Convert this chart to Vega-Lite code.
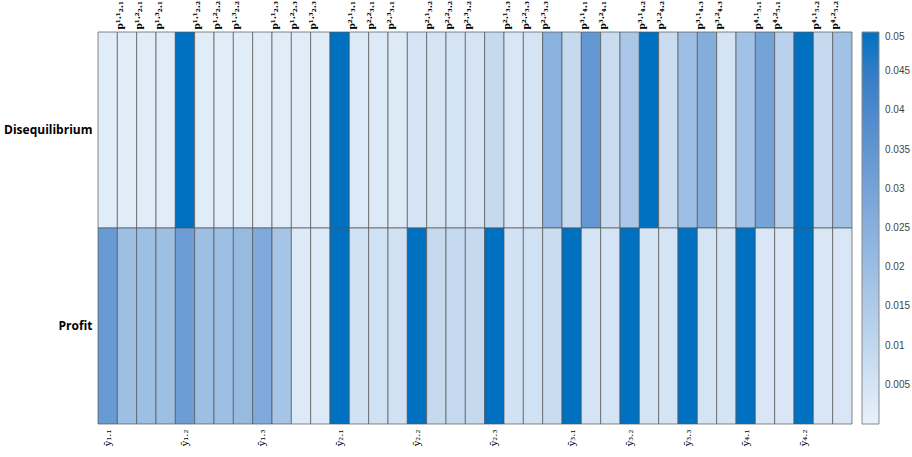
{
  "$schema": "https://vega.github.io/schema/vega-lite/v6.json",
  "width": 754,
  "height": 392,
  "padding": {"left": 3, "top": 0, "right": 1, "bottom": 1},
  "background": "white",
  "config": {"view": {"stroke": null}},
  "data": {"values": [
    {"c": 1, "lab": "ȳ₁.₁", "row": "Disequilibrium", "v": 0.002},
    {"c": 2, "lab": "p¹·¹₂.₁", "row": "Disequilibrium", "v": 0.002},
    {"c": 3, "lab": "p¹·²₂.₁", "row": "Disequilibrium", "v": 0.002},
    {"c": 4, "lab": "p¹·³₂.₁", "row": "Disequilibrium", "v": 0.002},
    {"c": 5, "lab": "ȳ₁.₂", "row": "Disequilibrium", "v": 0.05},
    {"c": 6, "lab": "p¹·¹₂.₂", "row": "Disequilibrium", "v": 0.002},
    {"c": 7, "lab": "p¹·²₂.₂", "row": "Disequilibrium", "v": 0.002},
    {"c": 8, "lab": "p¹·³₂.₂", "row": "Disequilibrium", "v": 0.002},
    {"c": 9, "lab": "ȳ₁.₃", "row": "Disequilibrium", "v": 0.002},
    {"c": 10, "lab": "p¹·¹₂.₃", "row": "Disequilibrium", "v": 0.002},
    {"c": 11, "lab": "p¹·²₂.₃", "row": "Disequilibrium", "v": 0.002},
    {"c": 12, "lab": "p¹·³₂.₃", "row": "Disequilibrium", "v": 0.002},
    {"c": 13, "lab": "ȳ₂.₁", "row": "Disequilibrium", "v": 0.05},
    {"c": 14, "lab": "p²·¹₃.₁", "row": "Disequilibrium", "v": 0.003},
    {"c": 15, "lab": "p²·²₃.₁", "row": "Disequilibrium", "v": 0.003},
    {"c": 16, "lab": "p²·³₃.₁", "row": "Disequilibrium", "v": 0.003},
    {"c": 17, "lab": "ȳ₂.₂", "row": "Disequilibrium", "v": 0.005},
    {"c": 18, "lab": "p²·¹₃.₂", "row": "Disequilibrium", "v": 0.005},
    {"c": 19, "lab": "p²·²₃.₂", "row": "Disequilibrium", "v": 0.005},
    {"c": 20, "lab": "p²·³₃.₂", "row": "Disequilibrium", "v": 0.005},
    {"c": 21, "lab": "ȳ₂.₃", "row": "Disequilibrium", "v": 0.009},
    {"c": 22, "lab": "p²·¹₃.₃", "row": "Disequilibrium", "v": 0.004},
    {"c": 23, "lab": "p²·²₃.₃", "row": "Disequilibrium", "v": 0.005},
    {"c": 24, "lab": "p²·³₃.₃", "row": "Disequilibrium", "v": 0.024},
    {"c": 25, "lab": "ȳ₃.₁", "row": "Disequilibrium", "v": 0.009},
    {"c": 26, "lab": "p³·¹₄.₁", "row": "Disequilibrium", "v": 0.034},
    {"c": 27, "lab": "p³·²₄.₁", "row": "Disequilibrium", "v": 0.008},
    {"c": 28, "lab": "ȳ₃.₂", "row": "Disequilibrium", "v": 0.016},
    {"c": 29, "lab": "p³·¹₄.₂", "row": "Disequilibrium", "v": 0.05},
    {"c": 30, "lab": "p³·²₄.₂", "row": "Disequilibrium", "v": 0.008},
    {"c": 31, "lab": "ȳ₃.₃", "row": "Disequilibrium", "v": 0.019},
    {"c": 32, "lab": "p³·¹₄.₃", "row": "Disequilibrium", "v": 0.026},
    {"c": 33, "lab": "p³·²₄.₃", "row": "Disequilibrium", "v": 0.005},
    {"c": 34, "lab": "ȳ₄.₁", "row": "Disequilibrium", "v": 0.018},
    {"c": 35, "lab": "p⁴·¹₅.₁", "row": "Disequilibrium", "v": 0.03},
    {"c": 36, "lab": "p⁴·²₅.₁", "row": "Disequilibrium", "v": 0.012},
    {"c": 37, "lab": "ȳ₄.₂", "row": "Disequilibrium", "v": 0.05},
    {"c": 38, "lab": "p⁴·¹₅.₂", "row": "Disequilibrium", "v": 0.009},
    {"c": 39, "lab": "p⁴·²₅.₂", "row": "Disequilibrium", "v": 0.018},
    {"c": 1, "lab": "ȳ₁.₁", "row": "Profit", "v": 0.033},
    {"c": 2, "lab": "p¹·¹₂.₁", "row": "Profit", "v": 0.019},
    {"c": 3, "lab": "p¹·²₂.₁", "row": "Profit", "v": 0.019},
    {"c": 4, "lab": "p¹·³₂.₁", "row": "Profit", "v": 0.019},
    {"c": 5, "lab": "ȳ₁.₂", "row": "Profit", "v": 0.032},
    {"c": 6, "lab": "p¹·¹₂.₂", "row": "Profit", "v": 0.019},
    {"c": 7, "lab": "p¹·²₂.₂", "row": "Profit", "v": 0.019},
    {"c": 8, "lab": "p¹·³₂.₂", "row": "Profit", "v": 0.021},
    {"c": 9, "lab": "ȳ₁.₃", "row": "Profit", "v": 0.027},
    {"c": 10, "lab": "p¹·¹₂.₃", "row": "Profit", "v": 0.017},
    {"c": 11, "lab": "p¹·²₂.₃", "row": "Profit", "v": 0.003},
    {"c": 12, "lab": "p¹·³₂.₃", "row": "Profit", "v": 0.003},
    {"c": 13, "lab": "ȳ₂.₁", "row": "Profit", "v": 0.05},
    {"c": 14, "lab": "p²·¹₃.₁", "row": "Profit", "v": 0.006},
    {"c": 15, "lab": "p²·²₃.₁", "row": "Profit", "v": 0.006},
    {"c": 16, "lab": "p²·³₃.₁", "row": "Profit", "v": 0.006},
    {"c": 17, "lab": "ȳ₂.₂", "row": "Profit", "v": 0.05},
    {"c": 18, "lab": "p²·¹₃.₂", "row": "Profit", "v": 0.009},
    {"c": 19, "lab": "p²·²₃.₂", "row": "Profit", "v": 0.009},
    {"c": 20, "lab": "p²·³₃.₂", "row": "Profit", "v": 0.009},
    {"c": 21, "lab": "ȳ₂.₃", "row": "Profit", "v": 0.05},
    {"c": 22, "lab": "p²·¹₃.₃", "row": "Profit", "v": 0.006},
    {"c": 23, "lab": "p²·²₃.₃", "row": "Profit", "v": 0.006},
    {"c": 24, "lab": "p²·³₃.₃", "row": "Profit", "v": 0.008},
    {"c": 25, "lab": "ȳ₃.₁", "row": "Profit", "v": 0.05},
    {"c": 26, "lab": "p³·¹₄.₁", "row": "Profit", "v": 0.005},
    {"c": 27, "lab": "p³·²₄.₁", "row": "Profit", "v": 0.005},
    {"c": 28, "lab": "ȳ₃.₂", "row": "Profit", "v": 0.05},
    {"c": 29, "lab": "p³·¹₄.₂", "row": "Profit", "v": 0.005},
    {"c": 30, "lab": "p³·²₄.₂", "row": "Profit", "v": 0.005},
    {"c": 31, "lab": "ȳ₃.₃", "row": "Profit", "v": 0.05},
    {"c": 32, "lab": "p³·¹₄.₃", "row": "Profit", "v": 0.005},
    {"c": 33, "lab": "p³·²₄.₃", "row": "Profit", "v": 0.005},
    {"c": 34, "lab": "ȳ₄.₁", "row": "Profit", "v": 0.05},
    {"c": 35, "lab": "p⁴·¹₅.₁", "row": "Profit", "v": 0.004},
    {"c": 36, "lab": "p⁴·²₅.₁", "row": "Profit", "v": 0.004},
    {"c": 37, "lab": "ȳ₄.₂", "row": "Profit", "v": 0.05},
    {"c": 38, "lab": "p⁴·¹₅.₂", "row": "Profit", "v": 0.004},
    {"c": 39, "lab": "p⁴·²₅.₂", "row": "Profit", "v": 0.004}
  ]},
  "layer": [
    {
      "mark": {"type": "rect", "stroke": "#555555", "strokeWidth": 0.7},
      "encoding": {
        "x": {
          "field": "lab", "type": "nominal", "sort": {"field": "c", "op": "min"}, "title": null,
          "axis": {
            "orient": "bottom", "labelAngle": 270, "ticks": false, "domain": false,
            "labelExpr": "indexof(datum.label, 'ȳ') == 0 ? datum.label : ''",
            "labelFont": "DejaVu Serif", "labelFontSize": 10, "labelColor": "black",
            "labelPadding": 5, "labelOverlap": false
          }
        },
        "y": {
          "field": "row", "type": "nominal", "sort": ["Disequilibrium", "Profit"], "title": null,
          "axis": {
            "ticks": false, "domain": false, "labelFont": "Open Sans", "labelFontWeight": "bold",
            "labelFontSize": 12, "labelColor": "black", "labelPadding": 6
          }
        },
        "color": {
          "field": "v", "type": "quantitative",
          "scale": {"domain": [0, 0.05], "range": ["#e8f1fa", "#0070c0"], "clamp": true},
          "legend": {
            "title": null, "direction": "vertical", "format": ".3~f",
            "values": [0.005, 0.01, 0.015, 0.02, 0.025, 0.03, 0.035, 0.04, 0.045, 0.05],
            "gradientLength": 392, "gradientThickness": 17, "offset": 10,
            "gradientStrokeColor": "#888888", "gradientStrokeWidth": 1,
            "labelFont": "Liberation Sans", "labelFontSize": 10, "labelColor": "#444444",
            "labelOffset": 6, "labelOverlap": false
          }
        }
      }
    },
    {
      "mark": {"type": "rect", "opacity": 0},
      "encoding": {
        "x": {
          "field": "lab", "type": "nominal", "sort": {"field": "c", "op": "min"}, "title": null,
          "axis": {
            "orient": "top", "labelAngle": 270, "ticks": false, "domain": false,
            "labelExpr": "indexof(datum.label, 'ȳ') == 0 ? '' : datum.label",
            "labelFont": "DejaVu Serif", "labelFontWeight": "bold", "labelFontSize": 9, "labelColor": "black",
            "labelPadding": 3, "labelOffset": -7, "labelOverlap": false
          }
        },
        "y": {"field": "row", "type": "nominal", "sort": ["Disequilibrium", "Profit"], "title": null}
      }
    }
  ],
  "resolve": {"axis": {"x": "independent"}}
}
